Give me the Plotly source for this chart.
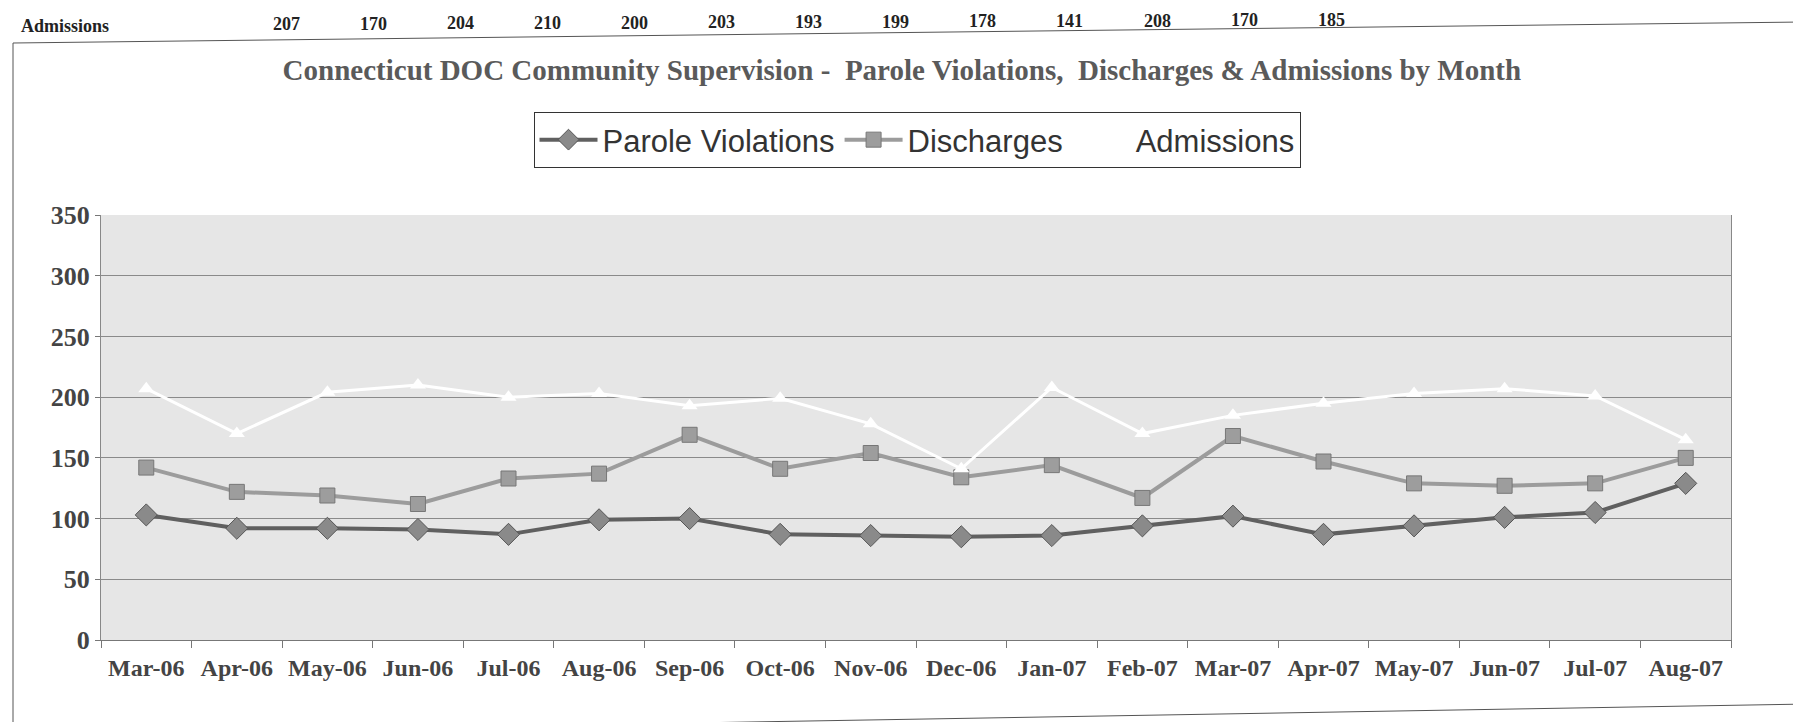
import plotly.graph_objects as go

months = ["Mar-06", "Apr-06", "May-06", "Jun-06", "Jul-06", "Aug-06", "Sep-06", "Oct-06", "Nov-06",
          "Dec-06", "Jan-07", "Feb-07", "Mar-07", "Apr-07", "May-07", "Jun-07", "Jul-07", "Aug-07"]
parole_violations = [103, 92, 92, 91, 87, 99, 100, 87, 86, 85, 86, 94, 102, 87, 94, 101, 105, 129]
discharges = [142, 122, 119, 112, 133, 137, 169, 141, 154, 134, 144, 117, 168, 147, 129, 127, 129, 150]
admissions = [207, 170, 204, 210, 200, 203, 193, 199, 178, 141, 208, 170, 185, 195, 203, 207, 201, 165]
table_values = ["207", "170", "204", "210", "200", "203", "193", "199", "178", "141", "208", "170", "185"]
y_ticks = [0, 50, 100, 150, 200, 250, 300, 350]

W, H = 1801, 722
L, R, T, B = 93, 78, 207, 90
PW, PH = W - L - R, H - T - B


def px(x):
    return (x - L) / PW


def py(y):
    return (H - B - y) / PH


SERIF = "Liberation Serif, Times New Roman, serif"
SANS = "Liberation Sans, Arial, sans-serif"

fig = go.Figure()
fig.add_trace(go.Scatter(
    x=months, y=parole_violations, name="Parole Violations", mode="lines+markers",
    line=dict(color="#606060", width=4),
    marker=dict(symbol="diamond", size=17, color="#8a8a8a", line=dict(color="#555555", width=1)),
))
fig.add_trace(go.Scatter(
    x=months, y=discharges, name="Discharges", mode="lines+markers",
    line=dict(color="#9c9c9c", width=4),
    marker=dict(symbol="square", size=15, color="#9d9d9d", line=dict(color="#777777", width=1)),
))
fig.add_trace(go.Scatter(
    x=months, y=admissions, name="Admissions", mode="lines+markers",
    line=dict(color="#ffffff", width=3),
    marker=dict(symbol="triangle-up", size=14, color="#ffffff"),
))

shapes = []
frame = [((5, 35), (1796, 14)), ((5, 35), (5, 722)), ((1796, 14), (1796, 700)), ((330, 721), (1801, 696))]
for (x0, y0), (x1, y1) in frame:
    shapes.append(dict(type="line", xref="paper", yref="paper", x0=px(x0), y0=py(y0), x1=px(x1), y1=py(y1),
                       line=dict(color="#555555", width=1)))

annotations = [dict(text="Admissions", xref="paper", yref="paper", x=px(11), y=py(18), xanchor="left",
                    yanchor="middle", showarrow=False,
                    font=dict(family=SERIF, size=18, color="#222222", weight="bold"))]
for i, v in enumerate(table_values):
    xc = 278 + 87.1 * i
    yc = 16 - 0.004 * (xc - 278)
    annotations.append(dict(text=v, xref="paper", yref="paper", x=px(xc), y=py(yc), xanchor="center",
                            yanchor="middle", showarrow=False,
                            font=dict(family=SERIF, size=18, color="#222222", weight="bold")))

fig.update_layout(
    width=W, height=H,
    margin=dict(l=L, r=R, t=T, b=B, autoexpand=False),
    paper_bgcolor="#ffffff", plot_bgcolor="#e6e6e6",
    title=dict(text="Connecticut DOC Community Supervision -  Parole Violations,  Discharges & Admissions by Month",
               x=px(902), xanchor="center", y=1 - 62 / H, yanchor="middle",
               font=dict(family=SERIF, size=29, color="#5a5a5a", weight="bold")),
    legend=dict(orientation="h", x=px(909), xanchor="center", y=py(104), yanchor="top",
                bgcolor="#ffffff", bordercolor="#333333", borderwidth=1,
                font=dict(family=SANS, size=31, color="#333333"), itemwidth=58),
    showlegend=True,
    shapes=shapes, annotations=annotations,
    xaxis=dict(type="category", range=[-0.5, len(months) - 0.5], showgrid=False,
               showline=True, linecolor="#777777", linewidth=1,
               ticks="outside", tickson="boundaries", ticklen=7, tickcolor="#777777",
               ticklabelstandoff=6,
               tickfont=dict(family=SERIF, size=24, color="#444444", weight="bold")),
    yaxis=dict(range=[0, 350], tickvals=y_ticks, showgrid=True, gridcolor="#8a8a8a", gridwidth=1,
               showline=True, linecolor="#888888", linewidth=1, mirror=True, zeroline=False,
               ticks="outside", ticklen=5, tickcolor="#777777",
               tickfont=dict(family=SERIF, size=26, color="#444444", weight="bold")),
)

fig.write_html("out.html")
